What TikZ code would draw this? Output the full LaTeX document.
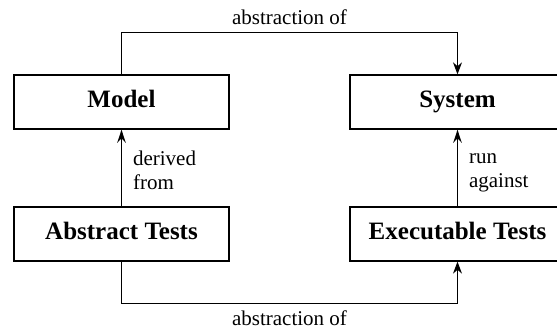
\documentclass[tikz,border=0pt]{standalone}
\usepackage{fontspec}
\setmainfont{Liberation Serif}
\usetikzlibrary{arrows.meta,shadows}

\tikzset{
  box/.style={draw, line width=0.65pt, fill=white, minimum width=107.5pt, minimum height=27pt,
    font=\fontsize{12.5}{15}\selectfont\bfseries, execute at begin node=\strut,
    drop shadow={shadow xshift=0.7pt, shadow yshift=-0.7pt, opacity=0.35}},
  note/.style={font=\fontsize{10.5}{12}\selectfont},
  lbl/.style={note, align=left, yshift=-3pt,
    execute at begin node=\strut, execute at end node=\strut},
  flow/.style={line width=0.5pt, -{Stealth[length=6pt,width=4.5pt]}},
  rel/.style={line width=0.9pt, -{Stealth[length=6.5pt,width=4.2pt]}}
}

\begin{document}
\begin{tikzpicture}[x=0.5pt,y=0.5pt,yscale=-1]
\useasboundingbox (0,0) rectangle (557,331);

%Boxes
\node[box] (model) at (121.5,102) {Model};
\node[box] (system) at (457.5,102) {System};
\node[box] (abstract) at (121.5,234) {Abstract Tests};
\node[box] (exec) at (457.5,234) {Executable Tests};

%Abstraction: top
\draw[flow] (model.north) -- ++(0,-42) -| node[pos=0.25, above=0pt, note] (toptxt) {abstraction of} (system.north);

%Abstraction: bottom
\draw[flow] (abstract.south) -- ++(0,42) -| node[pos=0.25, below=0pt, note] (bottxt) {abstraction of} (exec.south);

%Derived from
\draw[rel] (abstract.north) -- node[right=2pt, lbl] (dertxt) {derived\\from} (model.south);

%Run against
\draw[rel] (exec.north) -- node[right=2pt, lbl] (runtxt) {run\\against} (system.south);

\end{tikzpicture}
\end{document}
